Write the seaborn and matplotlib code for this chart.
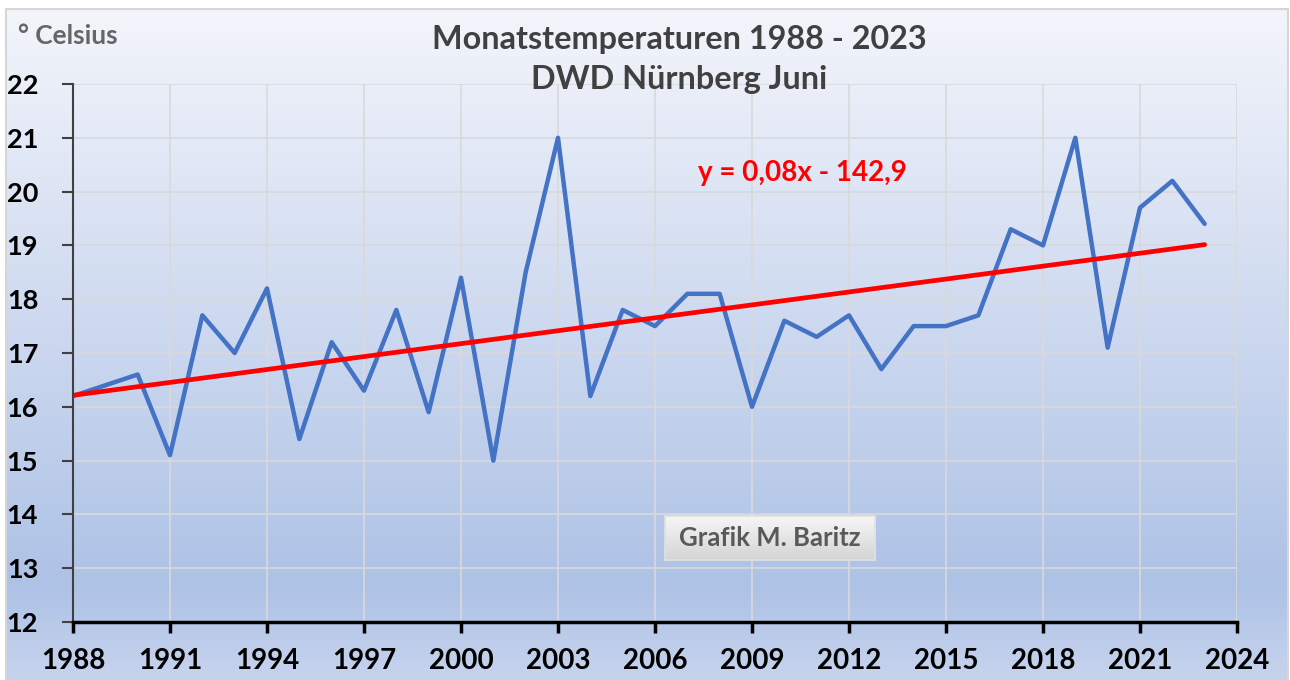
### Dependencies ---------------------------------------------------------------
import numpy as np
import pandas as pd
import matplotlib
matplotlib.use("Agg")
import matplotlib.pyplot as plt
import seaborn as sns
from matplotlib.colors import LinearSegmentedColormap
from matplotlib.patches import Rectangle

### Data -----------------------------------------------------------------------
years = list(range(1988, 2024))
temps = [16.2, 16.4, 16.6, 15.1, 17.7, 17.0, 18.2, 15.4, 17.2, 16.3,
         17.8, 15.9, 18.4, 15.0, 18.5, 21.0, 16.2, 17.8, 17.5, 18.1,
         18.1, 16.0, 17.6, 17.3, 17.7, 16.7, 17.5, 17.5, 17.7, 19.3,
         19.0, 21.0, 17.1, 19.7, 20.2, 19.4]
x_ticks = list(range(1988, 2025, 3))
y_ticks = list(range(12, 23))

title_1 = "Monatstemperaturen 1988 - 2023"
title_2 = "DWD Nürnberg Juni"
unit_label = "° Celsius"
trend_label = "y = 0,08x - 142,9"
credit = "Grafik M. Baritz"

df = pd.DataFrame({"Jahr": years, "Temp": temps})

### Figure ---------------------------------------------------------------------
sns.set_theme(style="white")
plt.rcParams["font.family"] = ["Lato", "DejaVu Sans"]

W, H = 1290, 680
fig = plt.figure(figsize=(W / 100, H / 100), dpi=100)
fig.patch.set_facecolor("white")

# gradient background of the chart area
bg_cmap = LinearSegmentedColormap.from_list(
    "bg", [(0, "#f3f5fb"), (0.86, "#aec2e6"), (1, "#c6d3ed")])
bg = fig.add_axes([6 / W, 0, (1288 - 6) / W, (H - 9) / H])
bg.imshow(np.linspace(0, 1, 256).reshape(-1, 1), aspect="auto", cmap=bg_cmap,
          extent=[0, 1, 0, 1])
bg.axis("off")
fig.patches.append(Rectangle((6 / W, -0.01), (1288 - 6) / W, (H - 9) / H + 0.01,
                             transform=fig.transFigure, fill=False,
                             edgecolor="#d6d6d6", linewidth=1.5))

ax = fig.add_axes([73 / W, (H - 622) / H, (1237 - 73) / W, (622 - 84) / H])
ax.set_facecolor("none")

sns.lineplot(data=df, x="Jahr", y="Temp", ax=ax, color="#4472c4", linewidth=3.2)
sns.regplot(data=df, x="Jahr", y="Temp", ax=ax, scatter=False, ci=None,
            color="#ff0000", line_kws={"linewidth": 3.4})

ax.set_xlim(1988, 2024)
ax.set_ylim(12, 22)
ax.set_xticks(x_ticks)
ax.set_yticks(y_ticks)
ax.set_xlabel("")
ax.set_ylabel("")
ax.grid(True, color="#d9d9d9", linewidth=1.2)
ax.set_axisbelow(True)

for s in ["top", "right"]:
    ax.spines[s].set_visible(False)
ax.spines["left"].set_color("#404040")
ax.spines["left"].set_linewidth(1.5)
ax.spines["bottom"].set_color("black")
ax.spines["bottom"].set_linewidth(2.5)

ax.tick_params(axis="x", direction="out", length=8, width=2.5, color="black",
               pad=11, labelsize=20, bottom=True)
ax.tick_params(axis="y", direction="out", length=8, width=1.5, color="#404040",
               pad=17, labelsize=19.5, left=True)
for lab in ax.get_xticklabels() + ax.get_yticklabels():
    lab.set_fontweight("bold")
    lab.set_color("black")

### Texts ----------------------------------------------------------------------
fig.text(679 / W, 1 - 40 / H, title_1, ha="center", va="center",
         fontsize=23.3, fontweight="bold", color="#404040")
fig.text(679 / W, 1 - 80 / H, title_2, ha="center", va="center",
         fontsize=23.3, fontweight="bold", color="#404040")
fig.text(18 / W, 1 - 36 / H, unit_label, ha="left", va="center",
         fontsize=19, fontweight="bold", color="#666666")
ax.text((698 - 73) / (1237 - 73), 1 - (173 - 84) / (622 - 84), trend_label,
        transform=ax.transAxes, ha="left", va="center", fontsize=20,
        fontweight="bold", color="#ff0000")

# credit box with light grey gradient
box_cmap = LinearSegmentedColormap.from_list("box", ["#f7f7f7", "#d4d4d4"])
box = fig.add_axes([665 / W, (H - 560) / H, (875 - 665) / W, (560 - 516) / H])
box.imshow(np.linspace(0, 1, 64).reshape(-1, 1), aspect="auto", cmap=box_cmap,
           extent=[0, 1, 0, 1])
box.set_xticks([])
box.set_yticks([])
for s in box.spines.values():
    s.set_color("#e0e0e0")
box.text(0.5, 0.5, credit, ha="center", va="center", fontsize=18.5,
         fontweight="bold", color="#595959", transform=box.transAxes)

fig.savefig("out.png", dpi=100)
